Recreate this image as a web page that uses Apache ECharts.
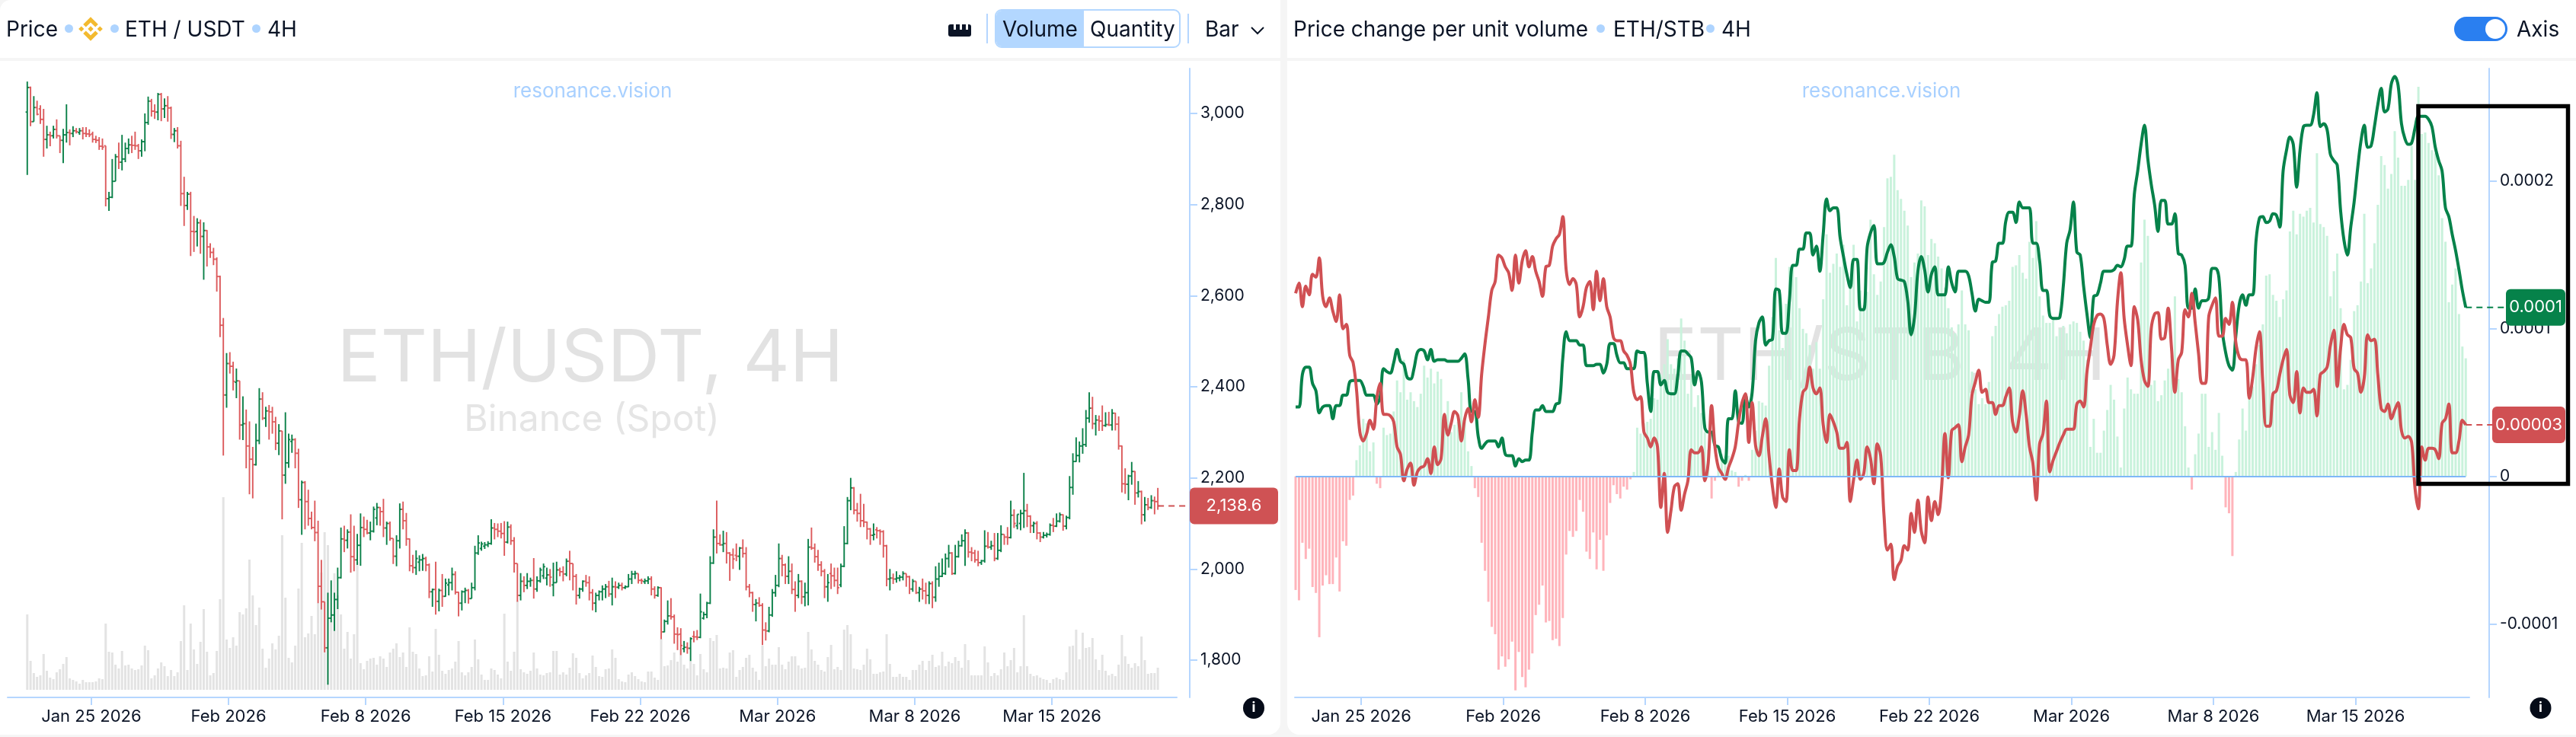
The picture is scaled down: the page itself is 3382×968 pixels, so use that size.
<!DOCTYPE html>
<html>
<head>
<meta charset="utf-8">
<title>ETH price and price change per unit volume</title>
<script src="https://cdn.jsdelivr.net/npm/echarts@6/dist/echarts.min.js"></script>
<style>
html,body{margin:0;padding:0;width:3382px;height:968px;overflow:hidden;background:#f5f5f5;font-family:Inter,"Noto Sans",sans-serif;color:#0b1426}
.card{position:absolute;top:0;height:965px;background:#fff}
#leftCard{left:0;width:1681px;border-radius:14px 0 16px 0}
#rightCard{left:1690px;width:1692px;border-radius:0 0 0 16px}
.chart{position:absolute;left:0;top:0;width:100%;height:100%}
.strip{position:absolute;left:0;right:0;top:76px;height:4px;background:#f5f5f5}
.t{position:absolute;top:19px;font-size:28px;line-height:38px;white-space:nowrap}
.dot{position:absolute;top:32px;width:11px;height:11px;border-radius:50%;background:#aed4ff}
.sep{position:absolute;top:18px;width:2px;height:39px;background:#b5d6ff}
</style>
</head>
<body>
<div class="card" id="leftCard">
  <div class="chart" id="priceChart"></div>
  <div class="strip"></div>
  <div class="t" style="left:8px">Price</div>
  <div class="dot" style="left:85px"></div>
  <svg style="position:absolute;left:103px;top:22px" width="32" height="32" viewBox="0 0 32 32"><path fill="#f3ba2f" d="M9.785 13.597L16 7.382l6.218 6.218 3.617-3.617L16 .147 6.168 9.98zM.147 16l3.617-3.617L7.381 16l-3.617 3.617zM9.785 18.403L16 24.618l6.218-6.218 3.619 3.615L16 31.853l-9.832-9.831-.005-.005zm14.833-2.402l3.617-3.617L31.853 16l-3.617 3.617zM19.668 15.998h.002L16 12.328l-2.712 2.711-.312.312-.642.643-.005.005.005.006L16 19.673l3.67-3.67.002-.002z"/></svg>
  <div class="dot" style="left:145px"></div>
  <div class="t" style="left:164px">ETH / USDT</div>
  <div class="dot" style="left:331px"></div>
  <div class="t" style="left:351px">4H</div>
  <svg style="position:absolute;left:1245px;top:32px" width="30" height="16" viewBox="0 0 30 16"><path fill="#0b1426" d="M3 0h4v7h3V0h5v7h3V0h5v7h3V0h1a3 3 0 0 1 3 3v10a3 3 0 0 1-3 3H3a3 3 0 0 1-3-3V3a3 3 0 0 1 3-3z"/></svg>
  <div class="sep" style="left:1295px"></div>
  <div style="position:absolute;left:1306px;top:12px;width:240px;height:47px;border:2px solid #b3d7ff;border-radius:9px;overflow:hidden">
    <div style="position:absolute;left:0;top:0;width:115px;height:47px;background:#b3d7ff"></div>
  </div>
  <div class="t" style="left:1316px">Volume</div>
  <div class="t" style="left:1431px">Quantity</div>
  <div class="sep" style="left:1559px"></div>
  <div class="t" style="left:1582px">Bar</div>
  <svg style="position:absolute;left:1641px;top:33px" width="20" height="14" viewBox="0 0 20 14"><path fill="none" stroke="#0b1426" stroke-width="2" d="M2 3l8 8 8-8"/></svg>
</div>
<div class="card" id="rightCard">
  <div class="chart" id="ratioChart"></div>
  <div class="strip"></div>
  <div class="t" style="left:8px">Price change per unit volume</div>
  <div class="dot" style="left:406px"></div>
  <div class="t" style="left:428px">ETH/STB</div>
  <div class="dot" style="left:550px"></div>
  <div class="t" style="left:570px">4H</div>
  <div style="position:absolute;left:1532px;top:22px;width:70px;height:32px;border-radius:16px;background:#2a7ff0">
    <div style="position:absolute;right:3px;top:3px;width:26px;height:26px;border-radius:50%;background:#fff"></div>
  </div>
  <div class="t" style="left:1614px">Axis</div>
</div>
<script>
var opens = [
3003,3057,2982,3013,3010,2987,2943,2953,2951,2965,2951,2941,2953,2958,2956,2962,2958,2962,2956,2955,
2955,2943,2941,2928,2929,2813,2816,2851,2905,2893,2900,2923,2931,2930,2929,2918,2938,2980,3027,3005,
3003,3042,3010,3017,3012,2954,2962,2929,2824,2798,2823,2741,2741,2760,2730,2743,2707,2695,2680,2642,
2535,2382,2451,2445,2410,2413,2316,2319,2270,2241,2229,2282,2373,2331,2347,2345,2323,2276,2303,2206,
2233,2280,2284,2254,2152,2190,2148,2111,2091,2080,1962,1928,1827,1892,1899,1933,1981,2066,2063,2081,
2027,2020,2052,2091,2087,2079,2083,2112,2135,2126,2090,2100,2067,2028,2062,2131,2106,2066,2007,2003,
2015,2020,2023,2009,1950,1955,1929,1953,1940,1965,1970,1988,1949,1925,1950,1953,1935,1959,2035,2045,
2050,2053,2056,2090,2087,2083,2078,2059,2092,2062,2012,1942,1973,1964,1973,1975,1956,1974,1985,1980,
1987,1965,1970,1998,1994,1989,2017,2012,1984,1942,1956,1973,1970,1948,1925,1942,1950,1956,1961,1945,
1961,1960,1964,1959,1961,1978,1989,1990,1975,1972,1974,1978,1956,1942,1959,1862,1885,1897,1895,1857,
1857,1825,1828,1826,1852,1851,1850,1892,1900,1925,2013,2070,2056,2053,2056,2035,2031,2030,2028,2046,
2034,1961,1948,1922,1925,1920,1866,1864,1899,1948,1964,2023,2009,1984,1995,1955,1942,1973,1939,1948,
2048,2046,2027,2009,1995,1961,1990,1985,1975,1965,2006,2056,2150,2178,2129,2122,2106,2103,2088,2074,
2086,2084,2082,2051,1978,1980,1978,1980,1982,1990,1983,1956,1973,1948,1956,1952,1942,1968,1938,1978,
1984,1990,2023,2035,1990,2027,2051,2062,2079,2037,2035,2020,2014,2018,2050,2048,2051,2023,2041,2076,
2070,2069,2118,2095,2100,2122,2128,2116,2095,2100,2079,2070,2074,2076,2096,2094,2105,2119,2094,2113,
2179,2236,2249,2270,2273,2331,2353,2319,2327,2325,2315,2317,2316,2342,2318,2270,2187,2186,2204,2214,
2167,2170,2119,2141,2135,2150,2148];
var highs = [
3070,3059,3038,3028,3018,3010,2973,2960,2973,2987,2951,2966,3020,2965,2972,2968,2968,2970,2970,2965,
2960,2951,2948,2945,2929,2828,2900,2911,2936,2953,2936,2945,2951,2960,2933,2943,3000,3037,3032,3020,
3045,3045,3033,3038,3015,2968,2970,2940,2861,2828,2828,2775,2770,2767,2761,2744,2715,2705,2684,2644,
2551,2474,2476,2455,2440,2413,2379,2350,2324,2268,2319,2397,2388,2356,2360,2356,2334,2318,2303,2344,
2297,2295,2287,2264,2194,2193,2174,2126,2150,2106,2020,1928,1948,1975,1948,2003,2091,2095,2087,2120,
2095,2077,2122,2115,2108,2104,2137,2145,2136,2154,2104,2104,2067,2074,2144,2148,2123,2067,2031,2041,
2030,2033,2027,2012,1957,2016,1957,1989,1979,1979,2003,1995,1950,1953,1959,1956,1970,2051,2074,2060,
2059,2061,2109,2101,2100,2101,2105,2104,2098,2070,2012,1991,1984,1991,1981,2024,1984,2003,2012,2003,
2000,2014,2016,2003,2006,2023,2040,2012,1989,1959,1975,1987,1984,1956,1948,1953,1964,1967,1974,1981,
1973,1970,1970,1964,1989,1996,1996,1990,1979,1979,1984,1984,1962,1962,1960,1889,1931,1936,1900,1872,
1870,1842,1839,1850,1864,1866,1946,1906,1928,2028,2087,2150,2076,2084,2081,2037,2045,2056,2048,2065,
2048,1967,1950,1934,1938,1925,1883,1917,1956,1987,2056,2031,2012,2028,2012,1973,1989,1975,1970,2066,
2091,2056,2042,2017,2000,1989,2012,2003,2003,2012,2094,2158,2200,2180,2145,2165,2143,2104,2090,2100,
2092,2087,2085,2053,2000,1990,1995,1987,1995,1990,1985,1978,1973,1961,1979,1970,1973,1973,2006,2014,
2023,2034,2053,2037,2053,2062,2076,2087,2081,2048,2042,2040,2020,2085,2081,2062,2079,2079,2096,2076,
2092,2150,2131,2120,2130,2211,2143,2118,2104,2105,2081,2081,2080,2100,2112,2122,2124,2120,2117,2204,
2254,2289,2280,2309,2349,2388,2378,2338,2337,2359,2344,2345,2351,2343,2335,2271,2221,2207,2235,2215,
2193,2172,2158,2156,2162,2159,2178];
var lows = [
2865,2972,2982,2996,2977,2905,2923,2928,2945,2945,2913,2891,2936,2930,2948,2956,2953,2943,2948,2948,
2936,2935,2920,2920,2796,2786,2814,2851,2878,2875,2893,2911,2913,2920,2900,2905,2917,2975,2993,2988,
2985,2983,2990,2982,2944,2937,2923,2797,2753,2788,2687,2696,2708,2692,2635,2664,2683,2667,2609,2509,
2249,2354,2429,2392,2375,2284,2283,2221,2164,2155,2227,2274,2327,2312,2284,2297,2261,2250,2109,2187,
2222,2255,2221,2134,2075,2087,2095,2087,2061,1925,1911,1817,1746,1883,1864,1912,1979,2037,2045,1992,
1995,2009,2007,2070,2076,2063,2080,2096,2095,2070,2053,2062,2011,2006,2045,2087,2051,1995,1991,1987,
1995,1996,1995,1936,1917,1900,1907,1917,1939,1942,1953,1944,1896,1909,1925,1924,1935,1953,2031,2040,
2044,2048,2053,2065,2070,2067,2029,2056,2053,1992,1928,1931,1949,1956,1961,1935,1950,1970,1978,1964,
1961,1940,1970,1984,1973,1984,1975,1953,1922,1935,1950,1961,1931,1909,1905,1931,1931,1936,1939,1920,
1936,1956,1953,1956,1960,1967,1978,1968,1967,1967,1967,1942,1935,1939,1846,1861,1878,1889,1836,1822,
1811,1817,1814,1798,1839,1844,1848,1889,1892,1923,2011,2034,2051,2037,2012,1974,2000,2017,1998,2025,
1953,1938,1906,1885,1917,1833,1843,1861,1895,1939,1960,1984,1967,1967,1945,1906,1936,1923,1918,1920,
2042,2014,1996,1984,1936,1928,1956,1961,1945,1960,2004,2054,2129,2120,2104,2092,2092,2065,2053,2063,
2067,2053,2025,1962,1953,1967,1970,1973,1975,1961,1945,1950,1945,1928,1933,1923,1923,1914,1928,1961,
1982,1987,2003,1987,1988,2025,2049,2007,2025,2017,2014,2006,2009,2014,2045,2042,2017,2020,2037,2053,
2053,2067,2090,2087,2085,2090,2092,2079,2079,2065,2059,2067,2069,2073,2081,2092,2102,2084,2087,2109,
2163,2235,2234,2253,2268,2321,2307,2293,2303,2303,2312,2314,2304,2304,2262,2168,2165,2151,2185,2141,
2157,2098,2104,2129,2132,2120,2130];
var closes = [
3057,2982,3013,2998,2987,2943,2953,2951,2965,2951,2941,2953,2958,2956,2962,2960,2962,2956,2955,2953,
2943,2941,2928,2926,2813,2816,2851,2905,2893,2900,2923,2931,2930,2929,2918,2938,2980,3027,3005,3003,
3042,3010,3017,3012,2954,2962,2929,2824,2798,2823,2741,2740,2760,2730,2743,2707,2695,2680,2642,2535,
2382,2451,2445,2412,2413,2316,2319,2270,2241,2229,2282,2373,2331,2347,2345,2323,2276,2303,2206,2233,
2284,2284,2254,2152,2190,2148,2111,2091,2080,1962,1928,1827,1892,1899,1933,1981,2066,2063,2081,2027,
2020,2052,2091,2087,2079,2083,2131,2135,2126,2090,2100,2067,2028,2062,2131,2106,2066,2007,2003,2023,
2020,2023,2009,1950,1955,1929,1953,1940,1969,1970,1988,1949,1925,1950,1953,1935,1959,2035,2057,2055,
2053,2056,2090,2087,2083,2078,2059,2092,2062,2012,1942,1973,1964,1973,1975,1956,1974,1998,2005,1987,
1982,1970,1998,1994,1989,2017,2012,1984,1942,1956,1973,1970,1948,1925,1942,1950,1956,1961,1945,1961,
1960,1964,1959,1961,1978,1989,1990,1975,1974,1974,1978,1956,1942,1959,1862,1885,1897,1895,1857,1856,
1832,1828,1826,1847,1851,1850,1906,1900,1925,2013,2070,2056,2053,2056,2035,2031,2022,2028,2046,2034,
1961,1948,1922,1925,1920,1866,1864,1899,1948,1964,2023,2009,1984,1995,1955,1942,1973,1939,1948,2048,
2046,2027,2009,1995,1961,1970,1985,1975,1959,2006,2056,2150,2178,2129,2122,2106,2103,2088,2074,2076,
2084,2082,2051,1978,1980,1978,1980,1982,1990,1983,1956,1973,1948,1956,1952,1942,1968,1938,1978,1984,
1990,2023,2035,1990,2027,2051,2062,2079,2037,2035,2020,2014,2018,2050,2048,2051,2023,2041,2076,2070,
2069,2118,2100,2120,2122,2128,2116,2095,2100,2079,2070,2074,2076,2096,2094,2105,2119,2094,2113,2179,
2236,2249,2270,2273,2331,2353,2319,2327,2325,2315,2317,2316,2342,2318,2270,2187,2186,2204,2214,2167,
2170,2119,2141,2135,2150,2148,2138.6];
// volume bars, arbitrary units
var volumes = [
99,38,22,17,19,47,25,16,14,23,27,34,43,15,13,11,8,13,10,10,
10,11,15,14,87,50,49,33,28,51,32,33,28,26,27,32,58,52,15,19,
28,36,31,18,26,18,23,64,111,26,87,53,34,63,106,50,19,22,51,119,
253,66,55,69,58,102,99,107,171,124,85,108,54,29,41,61,53,71,203,121,
42,36,58,133,193,69,74,97,73,114,154,207,190,91,153,124,99,54,76,41,
73,168,35,27,38,41,42,33,44,41,30,49,54,61,43,49,30,82,50,47,
28,18,19,44,24,80,46,25,21,26,28,37,64,23,19,23,30,66,40,20,
13,13,28,26,20,15,100,37,25,50,117,27,23,21,25,49,28,20,19,22,
23,51,51,20,23,20,29,48,42,22,15,19,22,45,30,18,17,27,28,53,
42,14,11,10,20,23,18,14,11,10,24,24,16,13,67,31,32,39,49,37,
53,33,28,38,34,19,47,27,23,68,64,72,28,29,28,49,52,17,26,30,
42,46,29,24,13,58,31,41,33,33,56,33,27,37,44,44,32,28,29,76,
53,38,33,26,24,43,59,27,30,26,79,85,73,28,27,26,33,54,40,21,
21,23,24,73,34,17,17,21,17,17,13,26,26,33,38,26,38,46,30,32,
50,31,37,35,43,38,29,60,39,19,19,19,19,57,36,18,22,19,27,49,
31,39,55,23,31,98,31,21,18,19,16,14,13,9,14,16,14,13,23,57,
58,79,40,75,55,56,68,40,26,46,25,19,21,18,33,72,44,34,29,35,
31,70,39,21,22,22,29];
// right panel values are in millionths: 100 reads 0.0001
var greenLine = [
47,47,69,74,74,63,58,43,47,48,48,39,48,48,55,55,64,65,65,65,
61,55,55,55,49,54,73,71,70,77,86,78,76,67,66,73,84,86,85,79,
86,78,79,79,79,78,78,78,78,80,83,66,44,44,27,19,22,24,24,24,
20,26,15,14,14,7,12,10,11,11,30,45,45,48,44,44,44,49,50,80,
98,92,92,92,89,89,75,75,75,76,76,70,76,90,90,82,77,77,73,73,
73,85,84,84,63,44,71,71,62,65,57,56,56,68,85,85,83,80,62,71,
64,33,30,30,21,20,12,9,39,39,58,37,36,55,47,57,92,104,108,89,
92,93,127,126,97,97,119,143,143,154,154,165,165,150,156,139,164,188,180,182,
182,162,149,137,128,147,147,113,113,155,165,170,144,144,145,152,157,149,134,133,
132,119,96,108,139,149,140,125,137,142,123,123,123,142,131,125,139,139,139,136,
124,112,120,119,118,118,145,146,158,158,173,179,179,172,186,182,182,182,158,158,
146,126,126,109,107,107,108,129,158,167,186,152,150,129,110,94,122,123,131,139,
139,139,140,143,142,147,156,156,191,207,225,238,215,198,184,166,187,187,171,171,
178,151,150,143,114,114,127,114,119,119,121,141,141,135,99,84,75,72,95,116,
123,116,123,123,160,175,176,172,173,178,177,169,207,221,230,225,196,221,237,238,
238,245,260,237,239,235,218,214,211,180,160,150,169,186,208,227,238,223,224,237,
252,263,247,249,266,271,265,239,229,225,226,236,244,244,244,242,237,223,214,207,
182,176,164,153,140,126,114.5];
var redLine = [
124,131,115,129,123,137,135,148,122,115,121,112,105,123,100,103,82,77,59,30,
24,29,38,32,53,63,42,42,41,37,20,15,-3,5,9,-6,3,6,7,12,
2,20,8,12,42,28,36,44,41,24,39,46,37,52,40,69,90,108,126,132,
150,148,142,138,126,150,131,146,153,142,149,139,132,122,142,143,156,161,164,176,
140,130,134,130,108,115,128,132,113,139,119,134,115,108,94,92,92,85,82,76,
57,52,54,30,26,20,26,20,-21,2,-38,-23,-7,-5,-23,-12,-3,18,16,16,
20,-3,9,48,20,6,2,-2,6,12,20,37,50,56,23,50,21,14,27,39,
14,-7,-21,5,-14,-17,18,4,4,39,57,60,74,60,56,60,35,23,42,37,
30,19,19,23,-17,-2,11,-2,2,20,12,-5,22,14,-27,-50,-46,-70,-61,-57,
-47,-50,-25,-38,-16,-37,-45,-14,-30,-17,-26,-8,29,-1,31,33,35,10,20,28,
55,64,72,57,59,50,50,42,48,48,54,60,37,30,41,58,42,20,9,-16,
22,29,51,3,11,17,23,28,32,32,32,49,51,47,71,87,103,109,110,107,
89,76,82,118,138,107,89,75,115,106,79,65,61,100,110,111,93,94,114,87,
57,79,84,113,108,124,104,83,63,63,108,116,121,95,95,107,103,118,91,81,
79,79,53,67,87,98,63,34,34,56,58,69,79,86,55,50,71,43,60,57,
57,59,41,69,71,74,89,99,61,87,103,96,94,73,70,57,67,96,92,93,
69,46,44,49,39,45,50,31,26,27,23,-8,-22,20,11,19,19,18,12,36,
39,49,16,16,24,38,35];
var histValues = [
-77,-84,-45,-56,-49,-75,-79,-109,-74,-67,-73,-73,-55,-78,-44,-47,-16,-13,11,21,
39,36,17,23,-5,-8,33,28,29,44,65,57,79,52,57,51,47,56,75,67,
73,63,71,66,42,51,30,35,37,57,37,17,7,-8,-14,-45,-64,-85,-102,-107,
-131,-122,-129,-124,-112,-145,-119,-136,-143,-131,-120,-94,-87,-74,-99,-98,-111,-110,-115,-96,
-53,-37,-41,-37,-16,-24,-51,-56,-38,-63,-43,-64,-40,-18,-6,-12,-15,-7,-9,-2,
3,33,29,36,37,39,53,52,69,76,93,76,73,80,107,92,56,68,47,55,
43,30,18,-15,-3,5,15,14,14,4,3,-7,-3,1,-3,18,31,51,50,48,
75,108,148,99,87,117,142,142,135,114,100,97,89,73,91,73,120,164,138,144,
151,142,157,116,130,157,105,126,116,125,174,137,123,132,169,202,203,218,194,188,
180,170,135,145,151,187,183,150,161,158,149,141,128,114,101,97,103,126,103,99,
71,59,49,53,49,64,95,102,110,115,116,119,142,143,150,138,134,159,148,173,
122,109,104,104,108,95,100,102,97,103,105,104,98,92,79,20,39,16,16,31,
45,62,52,27,6,46,67,59,56,56,145,174,163,62,65,51,55,65,73,82,
122,66,57,34,6,-9,15,29,56,56,20,30,18,43,14,-21,-25,-54,3,25,
46,31,53,61,76,89,103,136,137,123,119,108,120,126,166,180,164,178,176,180,
182,172,219,171,169,163,122,139,151,114,59,62,79,112,116,132,178,131,141,158,
184,217,211,195,205,234,216,197,197,201,224,201,264,232,233,226,221,219,204,175,
159,118,130,141,110,88,80];

var tickLabels = ['Jan 25 2026','Feb 2026','Feb 8 2026','Feb 15 2026','Feb 22 2026','Mar 2026','Mar 8 2026','Mar 15 2026'];
var priceTickBars = [19.6,61.6,103.6,145.6,187.6,229.6,271.6,313.6];
var ratioTickBars = [19.4,61.4,103.4,145.4,187.4,229.4,271.4,313.4];
var priceTicks = [1800,2000,2200,2400,2600,2800,3000];
var ratioTicks = [-100,0,100,200];
var lastPrice = 2138.6, lastGreen = 114.5, lastRed = 34.9;

var INK = '#0b1426', AXIS = '#b5d6ff', UP = '#0a8048', DOWN = '#dc5a5c';
var LINE_GREEN = '#06824a', LINE_RED = '#d05053';
var FONT = 'Inter';

function hiddenAxisX(min, max, grid) {
    return {type: 'value', gridIndex: grid, min: min, max: max, show: false};
}

function dateAxis(min, max, ticks) {
    return {
        type: 'value', gridIndex: 0, min: min, max: max, position: 'bottom',
        splitLine: {show: false},
        axisLine: {show: true, onZero: false, lineStyle: {color: AXIS, width: 2}},
        axisTick: {show: true, length: 10, customValues: ticks, lineStyle: {color: AXIS, width: 2}},
        axisLabel: {
            customValues: ticks, color: INK, fontFamily: FONT, fontSize: 22, margin: 14,
            formatter: function (v) { return tickLabels[ticks.indexOf(v)]; }
        }
    };
}

function valueAxis(min, max, offset, ticks, fmt) {
    return {
        type: 'value', gridIndex: 0, min: min, max: max, position: 'right', offset: offset,
        splitLine: {show: false},
        axisLine: {show: true, onZero: false, lineStyle: {color: AXIS, width: 2}},
        axisTick: {show: true, length: 10, customValues: ticks, lineStyle: {color: AXIS, width: 2}},
        axisLabel: {customValues: ticks, color: INK, fontFamily: FONT, fontSize: 21, margin: 14, formatter: fmt}
    };
}

function watermark(x, y, text, size, fill) {
    return {
        type: 'text', x: x, y: y, z: 0, silent: true,
        style: {text: text, fill: fill, fontFamily: FONT, fontSize: size, align: 'center', verticalAlign: 'middle'}
    };
}

function infoIcon(x, y) {
    return [
        {type: 'circle', z: 50, shape: {cx: x, cy: y, r: 14}, style: {fill: '#050b18'}},
        {type: 'text', x: x, y: y, z: 51, style: {text: 'i', fill: '#fff', fontFamily: FONT, fontWeight: 700, fontSize: 18, align: 'center', verticalAlign: 'middle'}}
    ];
}

// dashed line from the last point to a coloured value tag
function lastValueTag(chart, barIndex, value, tagLeft, tagRight, text, color) {
    var p = chart.convertToPixel({xAxisIndex: 0, yAxisIndex: 0}, [barIndex, value]);
    return [
        {type: 'line', z: 40, shape: {x1: p[0], y1: p[1], x2: tagLeft, y2: p[1]}, style: {stroke: color, lineWidth: 2, lineDash: [8, 6]}},
        {type: 'rect', z: 41, shape: {x: tagLeft, y: p[1] - 24, width: tagRight - tagLeft, height: 48, r: 6}, style: {fill: color}},
        {type: 'text', x: (tagLeft + tagRight) / 2, y: p[1], z: 42, style: {text: text, fill: '#fff', fontFamily: FONT, fontSize: 22, align: 'center', verticalAlign: 'middle'}}
    ];
}

function renderOhlc(params, api) {
    var i = api.value(0);
    var o = api.coord([i, api.value(1)]);
    var h = api.coord([i, api.value(2)]);
    var l = api.coord([i, api.value(3)]);
    var c = api.coord([i, api.value(4)]);
    var style = {stroke: api.value(4) >= api.value(1) ? UP : DOWN, lineWidth: 1.9, fill: null};
    return {
        type: 'group',
        children: [
            {type: 'line', shape: {x1: h[0], y1: h[1], x2: l[0], y2: l[1]}, style: style},
            {type: 'line', shape: {x1: o[0] - 2.2, y1: o[1], x2: o[0], y2: o[1]}, style: style},
            {type: 'line', shape: {x1: c[0], y1: c[1], x2: c[0] + 2.2, y2: c[1]}, style: style}
        ]
    };
}

var priceChart = echarts.init(document.getElementById('priceChart'));
var priceMinX = -6.014, priceMaxX = 351.8;
priceChart.setOption({
    animation: false,
    grid: [
        {left: 10, top: 90, width: 1535, height: 826},
        {left: 10, top: 606, width: 1535, height: 300}
    ],
    xAxis: [dateAxis(priceMinX, priceMaxX, priceTickBars), hiddenAxisX(priceMinX, priceMaxX, 1)],
    yAxis: [
        valueAxis(1718.1, 3098.6, 17, priceTicks, function (v) { return v.toLocaleString('en-US'); }),
        {type: 'value', gridIndex: 1, min: 0, max: 300, show: false}
    ],
    series: [
        {
            type: 'bar', xAxisIndex: 1, yAxisIndex: 1, barWidth: 3, z: 1,
            itemStyle: {color: '#e3e3e3'},
            data: volumes.map(function (v, i) { return [i, v]; })
        },
        {
            type: 'custom', xAxisIndex: 0, yAxisIndex: 0, z: 3, renderItem: renderOhlc,
            encode: {x: 0, y: [1, 2, 3, 4]},
            data: opens.map(function (o, i) { return [i, o, highs[i], lows[i], closes[i]]; })
        }
    ]
});
priceChart.setOption({graphic: {elements: [
    watermark(775, 472, 'ETH/USDT, 4H', 95, '#e2e2e2'),
    watermark(777, 552, 'Binance (Spot)', 48, '#e5e5e5'),
    watermark(778, 120, 'resonance.vision', 26, '#a8d0ff')
].concat(infoIcon(1646, 930)).concat(
    lastValueTag(priceChart, 346, lastPrice, 1562, 1678, '2,138.6', '#cf5254')
)}});

var ratioChart = echarts.init(document.getElementById('ratioChart'));
ratioChart.setOption({
    animation: false,
    grid: {left: 10, top: 90, width: 1542, height: 826},
    xAxis: dateAxis(-0.225, 347.07, ratioTickBars),
    yAxis: valueAxis(-149.8, 276.4, 26, ratioTicks, function (v) {
        return v === 0 ? '0' : (v / 1e6).toFixed(4);
    }),
    series: [
        {
            type: 'bar', barWidth: 3, z: 1,
            itemStyle: {color: function (p) { return p.value[1] >= 0 ? '#c9f2dc' : '#ffb4bb'; }},
            data: histValues.map(function (v, i) { return [i, v]; }),
            markLine: {
                silent: true, symbol: 'none', label: {show: false},
                lineStyle: {color: '#7fb7f8', width: 2, type: 'solid'},
                data: [[{coord: [0, 0]}, {coord: [346, 0]}]]
            }
        },
        {
            type: 'line', z: 3, showSymbol: false, smooth: 0.35,
            lineStyle: {color: LINE_GREEN, width: 4},
            data: greenLine.map(function (v, i) { return [i, v]; })
        },
        {
            type: 'line', z: 4, showSymbol: false, smooth: 0.35,
            lineStyle: {color: LINE_RED, width: 4},
            data: redLine.map(function (v, i) { return [i, v]; })
        }
    ]
});
ratioChart.setOption({graphic: {elements: [
    watermark(778, 470, 'ETH/STB, 4H', 95, '#e2e2e2'),
    watermark(780, 120, 'resonance.vision', 26, '#a8d0ff'),
    {type: 'rect', z: 60, shape: {x: 1485, y: 139.5, width: 196.5, height: 496}, style: {fill: null, stroke: '#000', lineWidth: 5.5}}
].concat(infoIcon(1645.5, 930)).concat(
    lastValueTag(ratioChart, 346, lastGreen, 1600, 1678, '0.0001', '#06824a')
).concat(
    lastValueTag(ratioChart, 346, lastRed, 1582, 1678, '0.00003', '#d05053')
)}});
</script>
</body>
</html>
